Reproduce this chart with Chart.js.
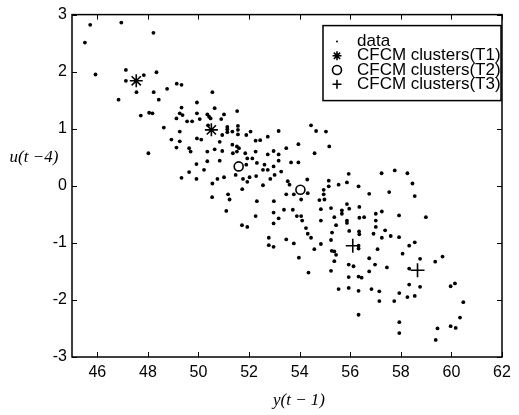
<!DOCTYPE html>
<html>
<head>
<meta charset="utf-8">
<script src="https://cdn.jsdelivr.net/npm/chart.js@4.4.0/dist/chart.umd.min.js"></script>
<style>
  html, body { margin: 0; padding: 0; background: #fff; }
</style>
</head>
<body>
<canvas id="chart" width="519" height="415"></canvas>
<script>
const xTicks = [46, 48, 50, 52, 54, 56, 58, 60, 62];
const yTicks = [-3, -2, -1, 0, 1, 2, 3];
const legendLabels = ['data', 'CFCM clusters(T1)', 'CFCM clusters(T2)', 'CFCM clusters(T3)'];

// scattered samples [y(t-1), u(t-4)]
const dataPoints = [
  [45.51,2.51],[45.72,2.82],[46.95,2.86],[48.22,2.68],[45.93,1.95],[47.13,2.03],[47.13,1.84],
  [47.84,1.94],[48.34,1.99],[47.55,1.64],[48.23,1.64],[48.43,1.51],[46.84,1.51],[48.76,1.70],
  [49.14,1.79],[47.72,1.23],[48.05,1.28],[48.18,1.27],[48.63,1.02],[48.02,0.57],[48.93,0.81],
  [49.13,1.18],[49.13,0.67],
  [50.55,1.64],[49.33,1.77],[49.94,1.46],[50.64,1.36],[49.33,1.37],[49.26,1.27],[49.37,1.24],
  [49.94,1.27],[50.35,1.25],[50.42,1.21],[50.48,1.18],[50.05,1.17],[49.55,1.13],[49.75,1.13],
  [51.01,1.25],[50.90,1.17],[51.53,1.31],[50.38,1.06],[50.94,0.89],[51.14,1.03],[51.14,0.99],
  [51.14,0.94],[51.34,0.95],[51.56,1.05],[51.56,0.98],[51.56,0.90],[52.06,0.95],[51.89,0.89],
  [52.26,0.79],[52.44,0.80],[52.74,0.86],[53.17,0.96],[54.45,1.06],[54.65,0.96],[49.26,0.95],
  [49.26,0.78],[49.94,0.83],[50.11,0.81],[50.84,0.77],[51.34,0.72],[51.52,0.69],[51.60,0.66],
  [49.63,0.66],[49.69,0.60],[50.35,0.60],[50.64,0.64],[50.94,0.61],[51.36,0.57],[51.52,0.60],
  [51.85,0.57],[51.93,0.48],[52.13,0.48],[52.26,0.60],[52.31,0.40],[52.74,0.55],[52.97,0.61],
  [53.17,0.55],[53.17,0.44],[53.47,0.66],[53.95,0.73],[54.59,0.57],[49.92,0.38],[50.35,0.43],
  [50.84,0.44],[51.89,0.37],[52.61,0.37],[52.55,0.28],[52.74,0.28],[52.97,0.34],[53.01,0.19],
  [53.27,0.25],[53.66,0.41],[53.95,0.41],[49.63,0.24],[50.22,0.28],[49.33,0.14],[49.92,0.12],
  [50.75,0.12],[51.01,0.15],[51.47,0.19],[51.76,0.12],[52.02,0.15],[52.28,0.17],[52.84,0.12],
  [50.55,0.04],[51.93,0.07],[52.55,0.01],[51.73,-0.06],[53.53,0.08],[53.60,0.02],[53.77,-0.15],
  [54.30,0.11],[54.32,-0.13],[53.47,-0.15],[51.17,-0.15],[51.23,-0.24],[50.54,-0.20],[52.31,-0.27],
  [52.98,-0.27],[53.38,-0.42],[53.73,-0.42],[54.06,-0.24],[51.10,-0.44],
  [55.04,0.95],[55.17,0.69],[55.94,0.21],[55.15,0.09],[55.15,-0.01],[55.54,0.02],[55.87,0.06],
  [56.33,-0.01],[56.75,-0.14],[57.24,0.22],[57.76,0.27],[58.26,0.22],[58.46,0.04],[57.54,-0.11],
  [58.55,-0.18],[58.99,-0.55],[54.95,-0.07],[54.95,-0.15],[54.78,-0.25],[54.98,-0.24],[55.87,-0.32],
  [56.36,-0.37],[54.84,-0.41],[55.24,-0.39],[55.67,-0.43],[55.67,-0.49],[55.96,-0.40],[55.37,-0.55],
  [55.87,-0.61],[55.87,-0.65],[56.36,-0.56],[56.55,-0.55],[57.01,-0.49],[57.25,-0.45],[57.01,-0.61],
  [57.01,-0.72],[57.93,-0.52],[54.06,-0.53],[54.10,-0.61],[54.25,-0.74],[54.32,-0.84],[54.45,-0.91],
  [54.58,-1.11],[54.84,-0.61],[55.28,-0.82],[55.44,-0.69],[55.24,-0.95],[54.84,-1.02],[55.96,-0.79],
  [56.35,-0.80],[56.36,-0.85],[56.33,-1.05],[56.33,-1.10],[56.92,-0.84],[57.38,-0.78],[57.60,-0.88],
  [57.93,-0.90],[58.33,-1.05],[58.55,-0.99],[57.08,-1.11],[57.25,-0.91],
  [55.27,-1.14],[55.37,-1.15],[55.44,-1.21],[55.37,-1.32],[55.24,-1.49],[55.94,-1.38],[56.13,-1.41],
  [56.75,-1.27],[56.98,-1.38],[57.45,-1.43],[56.75,-1.50],[55.94,-1.60],[56.33,-1.59],[56.45,-1.61],
  [58.33,-1.45],[58.76,-1.28],[59.36,-1.33],[59.65,-1.24],[55.54,-1.81],[55.94,-1.79],[56.33,-1.84],
  [56.84,-1.81],[57.15,-1.85],[57.94,-1.88],[58.33,-1.73],[58.26,-1.95],[58.55,-1.93],[57.15,-2.02],
  [57.74,-2.02],[58.76,-1.77],[59.97,-1.76],[60.14,-1.71],[60.47,-2.04],[56.33,-2.26],[57.94,-2.39],
  [57.94,-2.58],[59.45,-2.50],[59.97,-2.46],[60.17,-2.49],[60.34,-2.31],[59.38,-2.70],[58.07,-1.19],
  [52.97,-0.47],[52.97,-0.66],[53.17,-0.57],[52.78,-0.91],[52.78,-1.04],[52.97,-1.07],[53.47,-0.94],
  [53.77,-1.01],[53.89,-0.53],[53.97,-1.26],[54.35,-1.52],
  [51.72,-0.69],[51.93,-0.72],[52.26,-0.53]
];
const clustersT1 = [[47.54, 1.84], [50.51, 0.98]];
const clustersT2 = [[51.59, 0.34], [54.03, -0.07]];
const clustersT3 = [[56.10, -1.05], [58.66, -1.48]];

const toXY = list => list.map(p => ({ x: p[0], y: p[1] }));
const tickFont = { family: '"Liberation Sans", Arial, sans-serif', size: 16 };

// marker look, shared by the datasets and the legend
const markers = [
  { pointStyle: 'circle', radius: 1.9, fill: true, borderWidth: 0 },
  { pointStyle: 'star', radius: 6.5, fill: false, borderWidth: 1.6 },
  { pointStyle: 'circle', radius: 4.5, fill: false, borderWidth: 1.6 },
  { pointStyle: 'cross', radius: 7, fill: false, borderWidth: 1.6 }
];

function makeSet(list, m, order) {
  return {
    data: toXY(list),
    pointStyle: m.pointStyle,
    pointRadius: m.radius,
    pointBorderWidth: m.borderWidth,
    pointBackgroundColor: m.fill ? '#000' : 'rgba(0,0,0,0)',
    pointBorderColor: '#000',
    showLine: false,
    order: order
  };
}

const boxPlugin = {
  id: 'matlabBox',
  afterDatasetsDraw(chart) {
    const { ctx, chartArea: a, scales: { x, y } } = chart;
    ctx.save();
    ctx.strokeStyle = '#000';
    ctx.lineWidth = 1.5;
    ctx.strokeRect(a.left, a.top, a.right - a.left, a.bottom - a.top);

    // inward ticks on all four sides
    ctx.lineWidth = 1;
    ctx.beginPath();
    xTicks.forEach(v => {
      const px = Math.round(x.getPixelForValue(v)) + 0.5;
      ctx.moveTo(px, a.bottom); ctx.lineTo(px, a.bottom - 5);
      ctx.moveTo(px, a.top); ctx.lineTo(px, a.top + 5);
    });
    yTicks.forEach(v => {
      const py = Math.round(y.getPixelForValue(v)) + 0.5;
      ctx.moveTo(a.left, py); ctx.lineTo(a.left + 5, py);
      ctx.moveTo(a.right, py); ctx.lineTo(a.right - 5, py);
    });
    ctx.stroke();

    // axis titles
    ctx.fillStyle = '#000';
    ctx.font = 'italic 17px "Liberation Serif", "Times New Roman", serif';
    ctx.textAlign = 'center';
    ctx.textBaseline = 'middle';
    ctx.fillText('y(t \u2212 1)', 299, 401);
    ctx.fillText('u(t \u22124)', 34, y.getPixelForValue(0.5));

    // legend box
    const bx = a.right - 179, by = a.top + 11, bw = 178, bh = 75;
    ctx.fillStyle = '#fff';
    ctx.fillRect(bx, by, bw, bh);
    ctx.lineWidth = 1.5;
    ctx.strokeRect(bx, by, bw, bh);
    ctx.beginPath();
    ctx.rect(bx, by, bw - 1, bh);
    ctx.clip();
    ctx.font = '17px "Liberation Sans", Arial, sans-serif';
    ctx.textAlign = 'left';
    legendLabels.forEach((label, i) => {
      const ly = by + 16 + i * 14.2;
      const m = markers[i];
      ctx.fillStyle = m.fill ? '#000' : 'rgba(0,0,0,0)';
      ctx.strokeStyle = '#000';
      ctx.lineWidth = m.borderWidth;
      Chart.helpers.drawPoint(ctx, {
        pointStyle: m.pointStyle, radius: i === 0 ? 1 : Math.min(m.radius, 4.5),
        rotation: 0, borderWidth: m.borderWidth
      }, bx + 14, ly);
      ctx.fillStyle = '#000';
      ctx.fillText(label, bx + 34, ly);
    });
    ctx.restore();
  }
};

new Chart(document.getElementById('chart'), {
  type: 'scatter',
  data: {
    datasets: [
      makeSet(dataPoints, markers[0], 1),
      makeSet(clustersT1, markers[1], 0),
      makeSet(clustersT2, markers[2], 0),
      makeSet(clustersT3, markers[3], 0)
    ]
  },
  options: {
    responsive: false,
    animation: false,
    devicePixelRatio: 1,
    layout: { padding: { top: 12, right: 17, left: 0, bottom: 0 } },
    plugins: { legend: { display: false }, tooltip: { enabled: false } },
    scales: {
      x: {
        type: 'linear',
        min: 45,
        max: 62,
        afterBuildTicks: axis => { axis.ticks = xTicks.map(v => ({ value: v })); },
        afterFit: axis => { axis.height = 58; },
        grid: { display: false, drawTicks: false },
        border: { display: false },
        ticks: { font: tickFont, color: '#000', padding: 6, maxRotation: 0, autoSkip: false }
      },
      y: {
        type: 'linear',
        min: -3,
        max: 3,
        afterBuildTicks: axis => { axis.ticks = yTicks.map(v => ({ value: v })); },
        afterFit: axis => { axis.width = 72; },
        grid: { display: false, drawTicks: false },
        border: { display: false },
        ticks: { font: tickFont, color: '#000', padding: 5, autoSkip: false }
      }
    }
  },
  plugins: [boxPlugin]
});
</script>
</body>
</html>
